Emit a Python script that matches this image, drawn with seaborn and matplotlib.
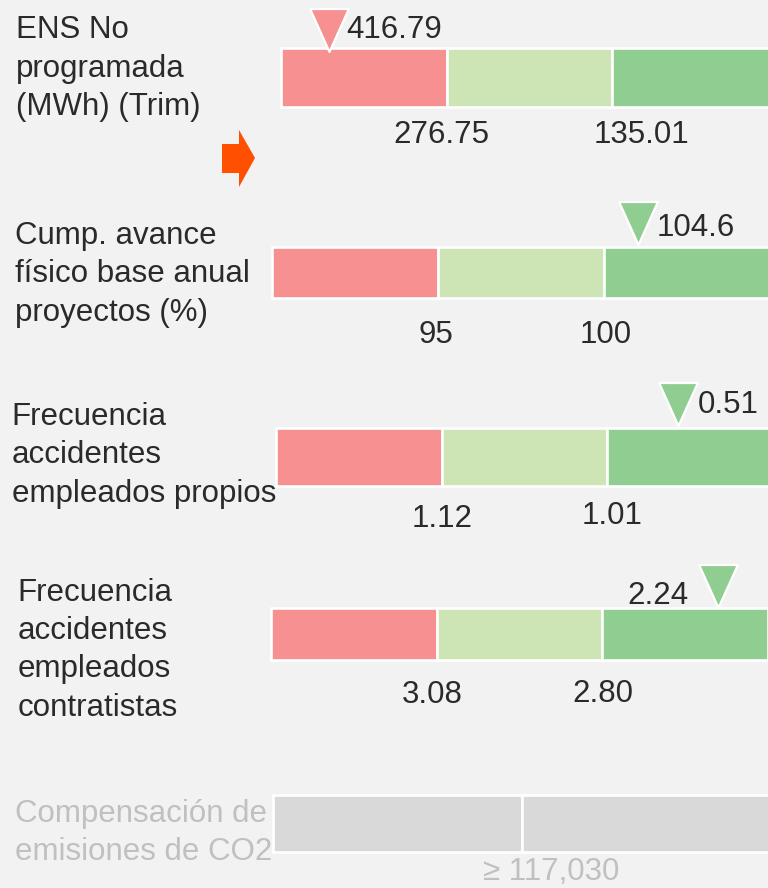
import numpy as np
import matplotlib
matplotlib.use("Agg")
import matplotlib.pyplot as plt
from matplotlib.patches import Polygon
import seaborn as sns

# Datos del tablero
etiquetas = [
    "ENS No\nprogramada\n(MWh) (Trim)",
    "Cump. avance\nfísico base anual\nproyectos (%)",
    "Frecuencia\naccidentes\nempleados propios",
    "Frecuencia\naccidentes\nempleados\ncontratistas",
    "Compensación de\nemisiones de CO2",
]
valor_real = ["416.79", "104.6", "0.51", "2.24", None]
umbrales = [
    ["276.75", "135.01"],
    ["95", "100"],
    ["1.12", "1.01"],
    ["3.08", "2.80"],
    ["≥ 117,030"],
]
# posicion del marcador, en unidades de tramo (0..3)
pos_marcador = [0.29, 2.21, 2.43, 2.70, None]
# banda en la que cae el valor real
banda_real = [0, 2, 2, 2, None]
tramos = [
    ["rojo", "amarillo", "verde"],
    ["rojo", "amarillo", "verde"],
    ["rojo", "amarillo", "verde"],
    ["rojo", "amarillo", "verde"],
    ["gris", "gris"],
]

colores = {"rojo": "#f79191", "amarillo": "#cde4b4", "verde": "#90cd91", "gris": "#d9d9d9"}
FONDO = "#f2f2f2"
TEXTO = "#2a2a2a"
TEXTO_GRIS = "#c0c0c0"

# Layout en pixeles (figura 768x888)
W, H = 768, 888
bar_izq = [281, 272.3, 276, 271, 272.7]
bar_sup = [48.3, 246.7, 428.3, 608.3, 795]
bar_inf = [106.7, 298.3, 485.7, 660, 852.3]
ancho_tramo = [165.6, 165.7, 165.5, 165.7, 249.5]
etq_x = [16, 15, 11.7, 17.3, 15]
etq_base = [38.3, 244, 425, 600.7, 822]
paso_linea = 38.3
marc_y = [29.7, 223.5, 404, 586.3, None]
val_dx = [17, 18, 20, -30, None]
val_base = [38.3, 236, 413.3, 604, None]
umb_x = [[441, 641.7], [436, 606], [442.2, 612], [432.3, 603], [483]]
umb_base = [[143.3, 143.3], [343, 343], [527.3, 524], [702.7, 701.7], [880]]

sns.set_theme(style="white")
plt.rcParams["font.family"] = ["Liberation Sans", "DejaVu Sans"]
FS = 22.5

fig = plt.figure(figsize=(7.68, 8.88), dpi=100, facecolor=FONDO)
bg = fig.add_axes([0, 0, 1, 1])
bg.set_xlim(0, W)
bg.set_ylim(H, 0)
bg.axis("off")
bg.set_facecolor(FONDO)

# flecha naranja
flecha = [(222, 144), (239, 144), (239, 130), (255, 158), (239, 187), (239, 173), (222, 173)]
bg.add_patch(Polygon(flecha, closed=True, color="#ff5000", lw=0))

triangulo = [(-0.9, 1), (0.9, 1), (0, -1), (-0.9, 1)]
px2pt = 72 / fig.dpi

for i, etq in enumerate(etiquetas):
    gris = tramos[i][0] == "gris"
    col_txt = TEXTO_GRIS if gris else TEXTO

    # etiqueta del indicador
    for k, linea in enumerate(etq.split("\n")):
        bg.text(etq_x[i], etq_base[i] + k * paso_linea, linea, fontsize=FS,
                color=col_txt, ha="left", va="baseline")

    # barra por tramos
    n = len(tramos[i])
    alto = bar_inf[i] - bar_sup[i]
    ax = fig.add_axes([bar_izq[i] / W, 1 - bar_inf[i] / H,
                       n * ancho_tramo[i] / W, alto / H])
    ax.set_xlim(0, n)
    ax.set_ylim(0, 1)
    ax.axis("off")
    for j, t in enumerate(tramos[i]):
        ax.barh(0.5, 1, left=j, height=1, color=colores[t], edgecolor="white",
                linewidth=1.9, clip_on=False)

    # marcador del valor real
    if valor_real[i] is not None:
        yc = (bar_inf[i] - marc_y[i]) / alto
        c = colores[tramos[i][banda_real[i]]]
        sns.scatterplot(x=[pos_marcador[i]], y=[yc], ax=ax, marker=triangulo,
                        s=(43 * px2pt) ** 2, color=c, edgecolor="white",
                        linewidth=1.6, clip_on=False, legend=False, zorder=5)
        ax.annotate(valor_real[i], xy=(pos_marcador[i], yc),
                    xytext=(val_dx[i] * px2pt, -(val_base[i] - marc_y[i]) * px2pt),
                    textcoords="offset points", fontsize=FS, color=TEXTO,
                    ha="left" if val_dx[i] > 0 else "right", va="baseline",
                    annotation_clip=False)

    # umbrales
    for j, u in enumerate(umbrales[i]):
        bg.text(umb_x[i][j], umb_base[i][j], u, fontsize=FS, color=col_txt,
                ha="left" if gris else "center", va="baseline")

fig.savefig("out.png", dpi=100, facecolor=FONDO)
